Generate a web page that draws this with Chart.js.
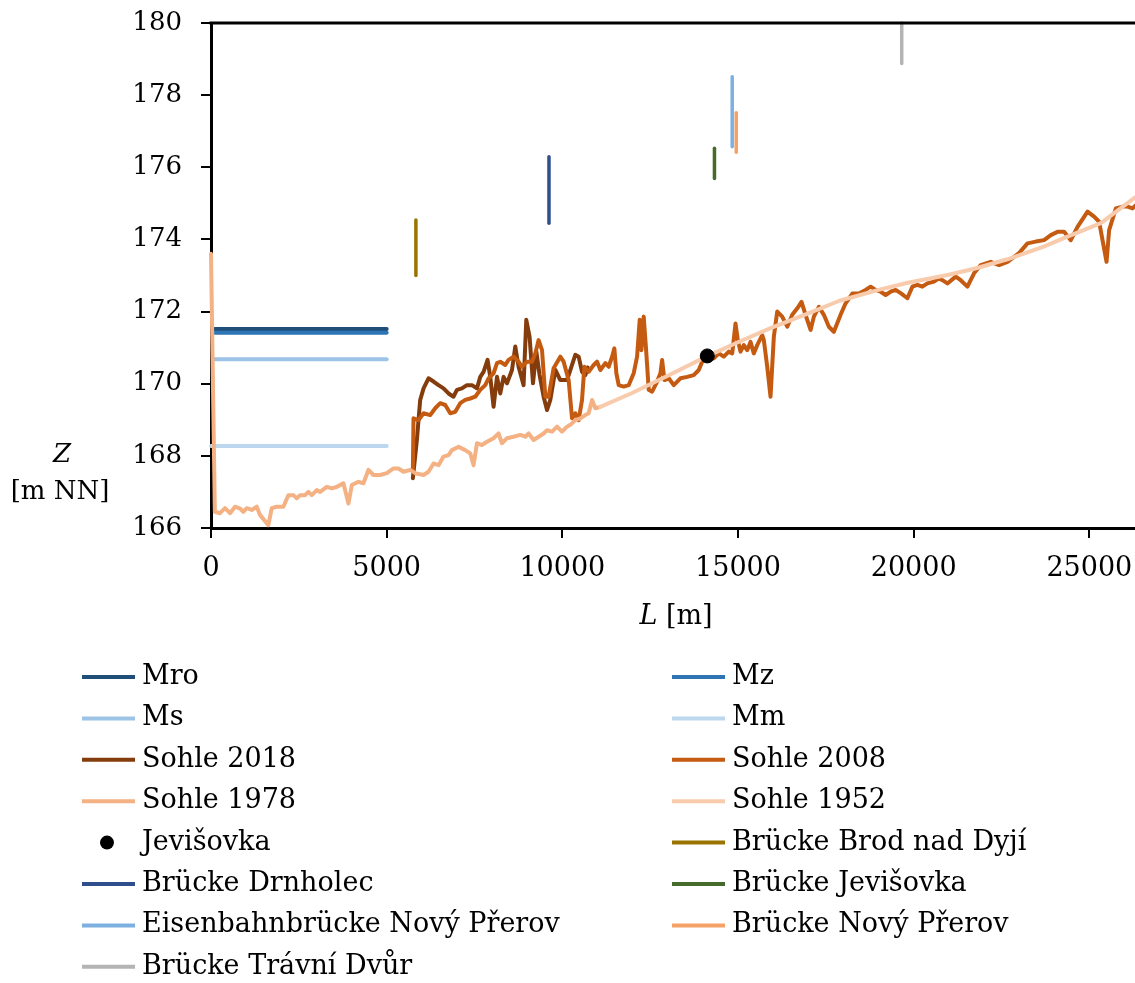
<!DOCTYPE html>
<html>
<head>
<meta charset="utf-8">
<script src="https://cdn.jsdelivr.net/npm/chart.js@4.4.1/dist/chart.umd.min.js"></script>
<style>
  html, body { margin: 0; padding: 0; background: #fff; overflow: hidden; }
  #wrap { width: 1135px; height: 983px; overflow: hidden; }
</style>
</head>
<body>
<div id="wrap"><canvas id="c" width="1143" height="983"></canvas></div>
<script>
// Longitudinal profile: river bed levels (Sohle), flow levels (M*) and bridges along L [m]
const FONT = 'DejaVu Serif';

const xMin = 0, xMax = 26300;
const xTickValues = [0, 5000, 10000, 15000, 20000, 25000];
const yMin = 166, yMax = 180;
const yTickValues = [166, 168, 170, 172, 174, 176, 178, 180];

// Flow water levels, drawn over the first 5 km
const mLevelNames  = ['Mro', 'Mz', 'Ms', 'Mm'];
const mLevelValues = [171.52, 171.41, 170.68, 168.27];
const mLevelStart  = [100, 100, 100, 0];
const mLevelEnd    = [5000, 5000, 5000, 5000];

// Bed surveys [L, Z]
const sohle2018 = [
  [5746,167.38],[5860,168.44],[5954,169.55],[6050,169.87],[6191,170.15],[6334,170.06],[6476,169.96],
  [6619,169.87],[6761,169.73],[6903,169.64],[7000,169.83],[7142,169.87],[7285,169.96],[7427,169.96],
  [7570,169.87],[7664,170.19],[7758,170.33],[7872,170.66],[7949,170.19],[8043,169.36],[8140,170.19],
  [8234,169.73],[8328,170.19],[8425,170.01],[8567,170.38],[8661,171.03],[8755,170.47],[8897,169.96],
  [8974,171.77],[9068,171.30],[9165,170.01],[9259,170.89],[9353,170.24],[9467,169.64],[9564,169.27],
  [9658,169.55],[9801,170.38],[9943,170.10],[10037,170.10],[10134,170.10],[10276,170.52],[10370,170.80],
  [10464,170.75],[10561,170.33],[10655,170.24],[10720,170.45]
];

const sohle2008 = [
  [5746,167.6],[5764,169.04],[5906,168.99],[6050,169.18],[6239,169.13],[6382,169.32],[6524,169.46],
  [6667,169.41],[6809,169.18],[6952,169.22],[7094,169.46],[7236,169.55],[7379,169.59],[7521,169.64],
  [7664,169.83],[7806,169.96],[7900,170.15],[8043,170.29],[8140,170.57],[8234,170.61],[8376,170.52],
  [8470,170.66],[8613,170.75],[8755,170.61],[8852,170.47],[8994,170.61],[9137,170.61],[9231,170.84],
  [9325,171.21],[9422,170.93],[9516,169.64],[9610,169.64],[9752,170.43],[9943,170.75],[10037,170.61],
  [10180,170.10],[10276,169.04],[10370,169.18],[10464,168.99],[10561,169.55],[10627,170.47],[10749,170.33],
  [10892,170.52],[10988,170.61],[11083,170.38],[11225,170.57],[11319,170.47],[11416,170.75],[11481,170.98],
  [11538,170.29],[11604,169.96],[11746,169.92],[11889,169.96],[12031,170.29],[12128,170.75],[12202,171.77],
  [12251,170.93],[12316,171.86],[12385,170.93],[12459,169.83],[12556,169.78],[12698,170.06],[12792,170.29],
  [12840,170.66],[12906,170.10],[13028,170.15],[13171,169.96],[13362,170.15],[13553,170.19],[13741,170.24],
  [13883,170.38],[13980,170.61],[14123,170.75],[14311,170.70],[14453,170.84],[14595,170.75],[14738,170.89],
  [14835,170.84],[14929,171.67],[14994,171.21],[15071,170.89],[15165,171.07],[15262,170.93],[15356,171.16],
  [15450,170.84],[15547,171.07],[15689,171.35],[15735,171.21],[15832,170.47],[15926,169.64],[16020,171.30],
  [16117,172.00],[16259,171.86],[16402,171.58],[16544,171.91],[16687,172.09],[16809,172.27],[16923,171.91],
  [17066,171.49],[17160,171.86],[17302,172.13],[17444,171.91],[17587,171.58],[17729,171.44],[17920,171.91],
  [18063,172.23],[18254,172.50],[18442,172.50],[18632,172.60],[18775,172.69],[18917,172.60],[19060,172.55],
  [19202,172.46],[19345,172.55],[19487,172.60],[19630,172.51],[19821,172.37],[19963,172.69],[20105,172.74],
  [20248,172.69],[20390,172.78],[20579,172.83],[20721,172.92],[20818,172.87],[20960,172.78],[21197,172.97],
  [21339,172.87],[21530,172.69],[21718,173.06],[21909,173.29],[22194,173.38],[22430,173.29],[22670,173.38],
  [23000,173.62],[23239,173.89],[23476,173.94],[23712,173.98],[23903,174.12],[24094,174.21],[24282,174.21],
  [24473,173.98],[24664,174.35],[24949,174.77],[25136,174.63],[25279,174.49],[25393,173.89],[25490,173.38],
  [25564,174.26],[25755,174.86],[25946,174.91],[26088,174.91],[26231,174.86],[26325,174.95]
];

const sohle1978 = [
  [0,173.6],[110,166.45],[256,166.41],[399,166.55],[541,166.41],[684,166.59],[826,166.54],[920,166.45],
  [1017,166.55],[1160,166.50],[1302,166.59],[1396,166.36],[1632,166.08],[1729,166.55],[1872,166.59],
  [2060,166.59],[2202,166.91],[2345,166.91],[2442,166.82],[2536,166.91],[2678,166.91],[2772,167.00],
  [2869,166.91],[3011,167.05],[3105,167.00],[3296,167.14],[3439,167.10],[3581,167.14],[3769,167.24],
  [3912,166.68],[4009,167.19],[4197,167.28],[4339,167.24],[4481,167.61],[4624,167.47],[4815,167.47],
  [5006,167.52],[5194,167.65],[5336,167.65],[5479,167.56],[5670,167.61],[5812,167.52],[6050,167.47],
  [6191,167.56],[6334,167.79],[6476,167.74],[6619,167.98],[6761,168.02],[6857,168.16],[7046,168.25],
  [7236,168.16],[7379,168.07],[7473,167.74],[7570,168.35],[7712,168.30],[7855,168.39],[8043,168.49],
  [8185,168.62],[8282,168.35],[8425,168.49],[8613,168.53],[8803,168.58],[8946,168.53],[9040,168.62],
  [9182,168.44],[9325,168.53],[9467,168.62],[9564,168.71],[9707,168.67],[9849,168.81],[9991,168.67],
  [10134,168.81],[10228,168.86],[10370,168.99],[10513,169.04],[10655,169.13],[10749,169.18],[10846,169.55],
  [10940,169.32],[11083,169.36]
];

const sohle1952 = [
  [11083,169.36],[12000,169.75],[13000,170.22],[14097,170.75],[15000,171.15],[15943,171.55],[17000,171.95],
  [17889,172.30],[19000,172.60],[19835,172.80],[21000,173.02],[21778,173.20],[22670,173.45],[23700,173.80],
  [24379,174.08],[25328,174.45],[25800,174.80],[26325,175.18]
];

// Gauge / confluence point
const jevisovkaPoint = [[14125,170.77]];

// Bridges: station and vertical extent
const bridgeNames  = ['Brücke Brod nad Dyjí','Brücke Drnholec','Brücke Jevišovka',
                      'Eisenbahnbrücke Nový Přerov','Brücke Nový Přerov','Brücke Trávní Dvůr'];
const bridgeL      = [5832, 9620, 14330, 14835, 14950, 19660];
const bridgeBottom = [173.0, 174.45, 175.69, 176.57, 176.42, 178.88];
const bridgeTop    = [174.54, 176.29, 176.53, 178.51, 177.51, 180.0];
const bridgeColors = ['#9A7400','#2F4F8C','#456B2C','#7DB0E0','#F4A266','#B4B4B4'];

const mColors = ['#1F4E79','#2E75B6','#9DC3E6','#BDD7EE'];

const xy = pts => pts.map(p => ({ x: p[0], y: p[1] }));

const datasets = [];
mLevelNames.forEach((n, i) => datasets.push({
  label: n, data: xy([[mLevelStart[i], mLevelValues[i]], [mLevelEnd[i], mLevelValues[i]]]),
  borderColor: mColors[i], borderWidth: 4
}));
datasets.push({ label: 'Sohle 2018', data: xy(sohle2018), borderColor: '#843C0C', borderWidth: 4 });
datasets.push({ label: 'Sohle 2008', data: xy(sohle2008), borderColor: '#C55A11', borderWidth: 4 });
datasets.push({ label: 'Sohle 1978', data: xy(sohle1978), borderColor: '#F4B183', borderWidth: 4 });
datasets.push({ label: 'Sohle 1952', data: xy(sohle1952), borderColor: '#F8CBAD', borderWidth: 4 });
datasets.push({ label: 'Jevišovka', data: xy(jevisovkaPoint), showLine: false, pointRadius: 7,
  backgroundColor: '#000', borderColor: '#000', legendDot: true });
bridgeNames.forEach((n, i) => datasets.push({
  label: n, data: xy([[bridgeL[i], bridgeBottom[i]], [bridgeL[i], bridgeTop[i]]]),
  borderColor: bridgeColors[i], borderWidth: 3.5
}));
// later series are painted over earlier ones
datasets.forEach((d, i) => {
  d.order = datasets.length - i;
  d.clip = false;
  d.fill = false;
  if (d.pointRadius === undefined) d.pointRadius = 0;
  d.borderCapStyle = 'round';
  d.borderJoinStyle = 'round';
  d.tension = 0;
});

// Two-column legend, axis titles and top frame line
const decorations = {
  id: 'decorations',
  afterDraw(chart) {
    const ctx = chart.ctx, ca = chart.chartArea;
    ctx.save();
    // top frame
    ctx.strokeStyle = '#000'; ctx.lineWidth = 3;
    ctx.beginPath(); ctx.moveTo(ca.left - 1.5, ca.top); ctx.lineTo(ca.right, ca.top); ctx.stroke();

    ctx.fillStyle = '#000';
    ctx.textBaseline = 'middle';
    // y title
    ctx.textAlign = 'center';
    ctx.font = `italic 26px ${FONT}`;
    ctx.fillText('Z', 62, 455);
    ctx.font = `26px ${FONT}`;
    ctx.fillText('[m NN]', 60, 492);
    // x title: italic L followed by unit
    ctx.textAlign = 'left';
    ctx.font = `italic 27px ${FONT}`;
    const wL = ctx.measureText('L ').width;
    ctx.font = `27px ${FONT}`;
    const wU = ctx.measureText('[m]').width;
    const cx = (ca.left + ca.right) / 2 + 3;
    const x0 = cx - (wL + wU) / 2;
    ctx.font = `italic 27px ${FONT}`;
    ctx.fillText('L', x0, 617);
    ctx.font = `27px ${FONT}`;
    ctx.fillText('[m]', x0 + wL, 617);

    // legend
    ctx.font = `27px ${FONT}`;
    chart.data.datasets.forEach((ds, i) => {
      const col = i % 2, row = Math.floor(i / 2);
      const lx = col ? 672 : 82;
      const ly = 677 + row * 41.4;
      if (ds.legendDot) {
        ctx.fillStyle = ds.backgroundColor;
        ctx.beginPath(); ctx.arc(lx + 25, ly, 7, 0, Math.PI * 2); ctx.fill();
      } else {
        ctx.strokeStyle = ds.borderColor; ctx.lineWidth = 4; ctx.lineCap = 'butt';
        ctx.beginPath(); ctx.moveTo(lx, ly); ctx.lineTo(lx + 53, ly); ctx.stroke();
      }
      ctx.fillStyle = '#000';
      ctx.fillText(ds.label, lx + 60, ly);
    });
    ctx.restore();
  }
};

new Chart(document.getElementById('c'), {
  type: 'line',
  data: { datasets },
  options: {
    responsive: false,
    animation: false,
    devicePixelRatio: 1,
    layout: { padding: { top: 23, left: 0, right: 0, bottom: 0 } },
    plugins: { legend: { display: false }, tooltip: { enabled: false } },
    scales: {
      x: {
        type: 'linear', min: xMin, max: xMax,
        afterBuildTicks(s) { s.ticks = xTickValues.map(v => ({ value: v })); },
        afterFit(s) { s.height = 455; s.paddingLeft = 0; s.paddingRight = 0; },
        ticks: { autoSkip: false, maxRotation: 0, color: '#000', padding: 15,
                 font: { family: FONT, size: 27 }, callback: v => String(v) },
        grid: { drawOnChartArea: false, tickLength: 10, color: '#000', lineWidth: 2 },
        border: { color: '#000', width: 3 }
      },
      y: {
        type: 'linear', min: yMin, max: yMax,
        afterBuildTicks(s) { s.ticks = yTickValues.map(v => ({ value: v })); },
        afterFit(s) { s.width = 211; s.paddingTop = 0; s.paddingBottom = 0; },
        ticks: { color: '#000', padding: 19, font: { family: FONT, size: 26 }, callback: v => String(v) },
        grid: { drawOnChartArea: false, tickLength: 10, color: '#000', lineWidth: 2 },
        border: { color: '#000', width: 3 }
      }
    }
  },
  plugins: [decorations]
});
</script>
</body>
</html>
